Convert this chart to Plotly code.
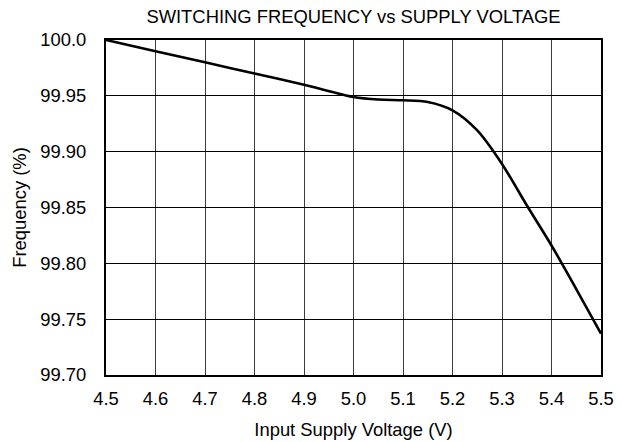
import plotly.graph_objects as go

voltage = [4.5, 4.6, 4.7, 4.8, 4.9, 5.0, 5.05, 5.1, 5.15, 5.2, 5.25, 5.3, 5.35, 5.4, 5.45, 5.5]
frequency = [100.0, 99.990, 99.980, 99.970, 99.960, 99.949, 99.9467, 99.946, 99.9445, 99.937,
             99.919, 99.889, 99.852, 99.816, 99.777, 99.737]

x_ticks = [4.5, 4.6, 4.7, 4.8, 4.9, 5.0, 5.1, 5.2, 5.3, 5.4, 5.5]
x_tick_text = ["4.5", "4.6", "4.7", "4.8", "4.9", "5.0", "5.1", "5.2", "5.3", "5.4", "5.5"]
y_ticks = [99.70, 99.75, 99.80, 99.85, 99.90, 99.95, 100.0]
y_tick_text = ["99.70", "99.75", "99.80", "99.85", "99.90", "99.95", "100.0"]

FONT = "Liberation Sans, Arial, sans-serif"

fig = go.Figure()
fig.add_trace(go.Scatter(
    x=voltage, y=frequency, mode="lines",
    line=dict(color="black", width=2.6, shape="spline", smoothing=0.8),
    hoverinfo="skip", showlegend=False,
))

fig.update_layout(
    width=622, height=442,
    margin=dict(l=106, r=21, t=40, b=67, autoexpand=False),
    paper_bgcolor="white", plot_bgcolor="white",
    font=dict(family=FONT, size=18.4, color="black"),
    title=dict(text="SWITCHING FREQUENCY vs SUPPLY VOLTAGE",
               x=0.5, xref="paper", xanchor="center",
               y=1 - 16.5 / 442, yref="container", yanchor="middle",
               font=dict(family=FONT, size=18.4, color="black")),
    showlegend=False,
)

fig.update_xaxes(
    range=[4.5, 5.5], tickvals=x_ticks, ticktext=x_tick_text,
    showgrid=True, gridcolor="#3a3a3a", gridwidth=1,
    showline=True, linecolor="black", linewidth=2, mirror=True,
    ticks="", zeroline=False, ticklabelstandoff=6, automargin=False,
    title=dict(text="Input Supply Voltage (V)", standoff=15,
               font=dict(family=FONT, size=18.4, color="black")),
)
fig.update_yaxes(
    range=[99.70, 100.0], tickvals=y_ticks, ticktext=y_tick_text,
    showgrid=True, gridcolor="black", gridwidth=1,
    showline=True, linecolor="black", linewidth=2, mirror=True,
    ticks="", zeroline=False, ticklabelstandoff=14, automargin=False,
    title=dict(text="Frequency (%)", standoff=9,
               font=dict(family=FONT, size=18.4, color="black")),
)

fig.write_html("out.html", config={"displayModeBar": False, "staticPlot": True},
               post_script="document.body.style.margin='0';")
